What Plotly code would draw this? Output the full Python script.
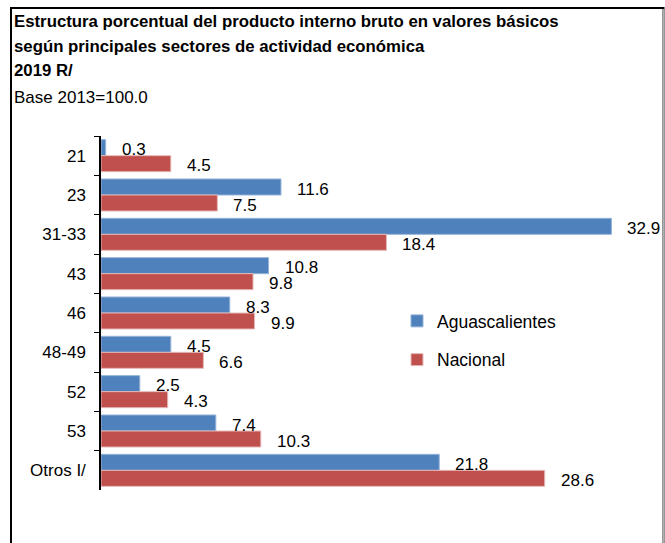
import plotly.graph_objects as go

categories = ["21", "23", "31-33", "43", "46", "48-49", "52", "53", "Otros I/"]
aguascalientes = [0.3, 11.6, 32.9, 10.8, 8.3, 4.5, 2.5, 7.4, 21.8]
nacional = [4.5, 7.5, 18.4, 9.8, 9.9, 6.6, 4.3, 10.3, 28.6]
series_names = ["Aguascalientes", "Nacional"]
title_lines = [
    "Estructura porcentual del producto interno bruto en valores básicos",
    "según principales sectores de actividad económica",
    "2019 R/",
]
subtitle = "Base 2013=100.0"

W, H = 665, 543
L, R, T, B = 101, 21, 136, 53
PW, PH = W - L - R, H - T - B

def px(x):
    return (x - L) / PW

def py(y):
    return (H - B - y) / PH

BLUE = "#4F81BD"
RED = "#C0504D"
FONT = "Liberation Sans, Arial, sans-serif"

fig = go.Figure()
fig.add_trace(go.Bar(y=categories, x=aguascalientes, orientation="h", name=series_names[0],
                     legendgroup="a", hoverinfo="skip",
                     marker=dict(color=BLUE, line=dict(color="#95B3D7", width=1))))
fig.add_trace(go.Bar(y=categories, x=nacional, orientation="h", name=series_names[1],
                     legendgroup="b", hoverinfo="skip",
                     marker=dict(color=RED, line=dict(color="#E6B9B8", width=1))))

# data labels (y given as category index so numeric-looking names are not misread)
for i, c in enumerate(categories):
    for vals, shift in ((aguascalientes, 6), (nacional, -10)):
        fig.add_annotation(x=vals[i], y=i, text=f"{vals[i]:.1f}", showarrow=False,
                           xanchor="left", yanchor="middle", xshift=14, yshift=shift,
                           font=dict(family=FONT, size=17, color="#000"))

# titles
ys = [21, 46, 71]
for t, yy in zip(title_lines, ys):
    fig.add_annotation(x=px(12), y=py(yy), xref="paper", yref="paper", text="<b>" + t + "</b>",
                       showarrow=False, xanchor="left", yanchor="middle",
                       font=dict(family=FONT, size=16.8, color="#000"))
fig.add_annotation(x=px(12), y=py(97), xref="paper", yref="paper", text=subtitle,
                   showarrow=False, xanchor="left", yanchor="middle",
                   font=dict(family=FONT, size=17, color="#000"))

# frame (top edge as a wide-border annotation-free rect in pixel-sized mode)
fig.add_shape(type="rect", xref="paper", yref="paper", x0=px(11), x1=px(663.5), y0=py(600), y1=py(8),
              line=dict(color="#000", width=2), fillcolor="rgba(0,0,0,0)", layer="below")
fig.add_shape(type="line", xref="paper", yref="paper", x0=px(663.5), x1=px(663.5), y0=py(9), y1=py(600),
              line=dict(color="#B0B0B0", width=2), layer="above")

fig.update_layout(
    width=W, height=H,
    margin=dict(l=L, r=R, t=T, b=B, pad=0, autoexpand=False),
    paper_bgcolor="white", plot_bgcolor="rgba(0,0,0,0)",
    barmode="group", bargap=0.186, bargroupgap=0,
    font=dict(family=FONT, size=16, color="#000"),
    showlegend=True,
    legend=dict(x=px(397), y=py(303), xref="paper", yref="paper", xanchor="left", yanchor="top",
                font=dict(family=FONT, size=17.5, color="#000"), itemwidth=30,
                tracegroupgap=13, bgcolor="rgba(0,0,0,0)", traceorder="grouped"),
    xaxis=dict(range=[0, 35], showticklabels=False, showgrid=False, zeroline=False, showline=False,
               ticks="", automargin=False),
    yaxis=dict(type="category", range=[8.5, -0.5], showline=True, linecolor="#000", linewidth=1.5,
               ticks="outside", ticklen=5, tickcolor="#000", tickson="boundaries",
               ticklabelstandoff=10, showgrid=False, automargin=False,
               tickfont=dict(family=FONT, size=17, color="#000")),
)

fig.write_html("out.html", config={"displayModeBar": False},
               post_script="document.body.style.margin='0px';")
